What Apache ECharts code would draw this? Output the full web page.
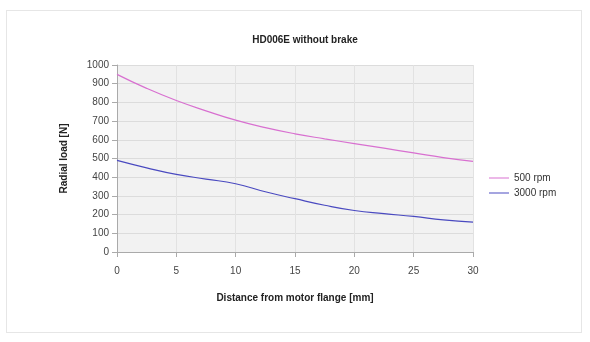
<!DOCTYPE html>
<html><head><meta charset="utf-8">
<script src="https://cdn.jsdelivr.net/npm/echarts@6/dist/echarts.min.js"></script>
<style>html,body{margin:0;padding:0;background:#fff}#c{width:590px;height:342px}
#frame{position:absolute;left:6px;top:10px;width:576px;height:323px;border:1px solid #e6e6e6;box-sizing:border-box;pointer-events:none}</style>
</head><body><div id="c"></div><div id="frame"></div>
<script>
const distances = [0, 2.5, 5, 7.5, 10, 12.5, 15, 17.5, 20, 22.5, 25, 27.5, 30];
const load500 = [950, 875, 810, 755, 705, 665, 632, 605, 580, 555, 530, 505, 485];
const load3000 = [490, 450, 415, 390, 365, 322, 285, 250, 222, 205, 190, 172, 160];
const seriesNames = ['500 rpm', '3000 rpm'];
const xTicks = [0, 5, 10, 15, 20, 25, 30];

const chart = echarts.init(document.getElementById('c'));
const pair = (xs, ys) => xs.map((x, i) => [x, ys[i]]);
const font = 'Liberation Sans, Arial, sans-serif';
chart.setOption({
  animation: false,
  title: { text: 'HD006E without brake', left: 300, top: 30, textAlign: 'center',
    textStyle: { fontFamily: font, fontSize: 10, fontWeight: 'bold', color: '#222' } },
  grid: { left: 117, right: 117, top: 65, bottom: 90, show: true, backgroundColor: '#f2f2f2', borderWidth: 0 },
  legend: { orient: 'vertical', left: 484, top: 168, itemGap: 5, itemWidth: 20, itemHeight: 8,
    icon: 'path://M0,4L20,4L20,5L0,5Z',
    textStyle: { fontFamily: font, fontSize: 10, color: '#333' }, data: seriesNames },
  xAxis: { type: 'value', min: 0, max: 30, interval: 5,
    name: 'Distance from motor flange [mm]', nameLocation: 'middle', nameGap: 41,
    nameTextStyle: { fontFamily: font, fontSize: 10, fontWeight: 'bold', color: '#222' },
    axisLine: { lineStyle: { color: '#aaa' } }, axisTick: { show: true, lineStyle: { color: '#aaa' } },
    axisLabel: { fontFamily: font, fontSize: 10, color: '#444', margin: 14,
      formatter: v => xTicks.includes(v) ? String(v) : '' },
    splitLine: { show: true, lineStyle: { color: '#e2e2e2' } } },
  yAxis: { type: 'value', min: 0, max: 1000, interval: 100,
    name: 'Radial load [N]', nameLocation: 'middle', nameGap: 48,
    nameTextStyle: { fontFamily: font, fontSize: 10, fontWeight: 'bold', color: '#222' },
    axisLine: { show: true, lineStyle: { color: '#aaa' } }, axisTick: { show: true, lineStyle: { color: '#aaa' } },
    axisLabel: { fontFamily: font, fontSize: 10, color: '#444', margin: 8, formatter: v => String(v) },
    splitLine: { show: true, lineStyle: { color: '#dcdcdc' } } },
  series: [
    { name: seriesNames[0], type: 'line', smooth: true, showSymbol: false,
      lineStyle: { color: '#d870d0', width: 1.2 }, itemStyle: { color: '#d870d0' },
      data: pair(distances, load500) },
    { name: seriesNames[1], type: 'line', smooth: true, showSymbol: false,
      lineStyle: { color: '#4a4ac0', width: 1.2 }, itemStyle: { color: '#4a4ac0' },
      data: pair(distances, load3000) }
  ]
});
</script></body></html>
